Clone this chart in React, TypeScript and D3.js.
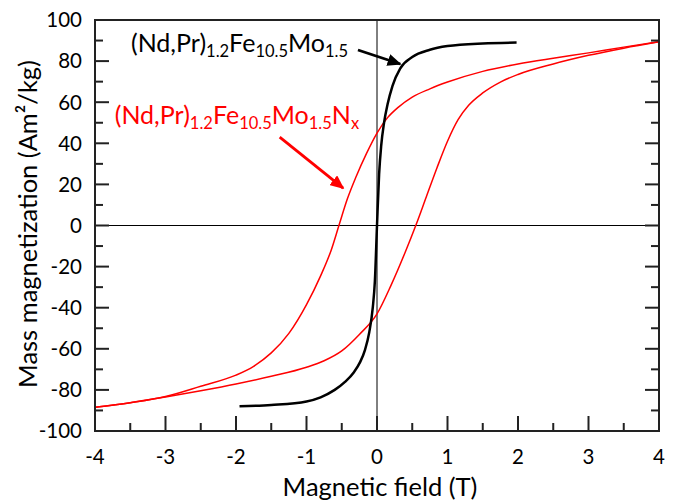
import React from "react";
import * as d3 from "d3";

// ---- data ----
const blackX = [-1.95, -1.5, -1.0, -0.8, -0.6, -0.45, -0.33, -0.24, -0.17, -0.11, -0.06, -0.03, 0, 0.03, 0.06, 0.1, 0.15, 0.22, 0.33, 0.5, 0.75, 1.0, 1.5, 1.98];
const blackY = [-88, -87.3, -85.6, -83.6, -80, -76, -71.5, -66.5, -60.5, -52, -40, -27, 0, 25, 39, 50, 59, 68, 76.5, 82, 85.5, 87.3, 88.6, 89];

const redUpperX = [-4, -3.5, -3.0, -2.5, -2.0, -1.75, -1.5, -1.25, -1.0, -0.8, -0.65, -0.54, -0.42, -0.3, -0.15, 0, 0.15, 0.3, 0.5, 0.75, 1.0, 1.5, 2.0, 2.5, 3.0, 3.5, 4.0];
const redUpperY = [-88.5, -86.2, -83.2, -78.2, -72.8, -68.5, -62, -52.5, -38.5, -24.5, -12, 0, 13, 23.5, 35, 45, 52.5, 57.5, 62.5, 66.5, 69.8, 75, 78.6, 81.4, 84, 86.8, 89.4];

const redLowerX = [-4, -3.5, -3.0, -2.5, -2.0, -1.5, -1.0, -0.75, -0.5, -0.25, 0, 0.2, 0.4, 0.55, 0.7, 0.85, 1.0, 1.15, 1.3, 1.5, 1.75, 2.0, 2.5, 3.0, 3.5, 4.0];
const redLowerY = [-88.5, -86.3, -83.5, -80.4, -77.1, -73.4, -69, -65.8, -61, -53, -43, -29, -13, 0, 14, 28, 41, 51.5, 58.5, 64.5, 69.8, 73.5, 78.6, 82.8, 86.3, 89.4];

const xTicks = [-4, -3, -2, -1, 0, 1, 2, 3, 4];
const xMinorTicks = [-3.5, -2.5, -1.5, -0.5, 0.5, 1.5, 2.5, 3.5];
const yTicks = [-100, -80, -60, -40, -20, 0, 20, 40, 60, 80, 100];
const yMinorTicks = [-90, -70, -50, -30, -10, 10, 30, 50, 70, 90];

// annotations in data coordinates
const blackLabelPos = [-3.49, 84.4];
const blackArrow = [[-0.27, 85.4], [0.33, 78.6]];
const redLabelPos = [-3.72, 49.4];
const redArrow = [[-1.38, 43], [-0.48, 18.2]];

const W = 682, H = 500;
const L = 95, R = 659, T = 20, B = 431;
const FONT = "Lato, 'Open Sans', sans-serif";

export default function App() {
  const x = d3.scaleLinear().domain([-4, 4]).range([L, R]);
  const y = d3.scaleLinear().domain([-100, 100]).range([B, T]);
  const line = d3.line<[number, number]>().x(d => x(d[0])).y(d => y(d[1])).curve(d3.curveMonotoneX);
  const zip = (a: number[], b: number[]) => a.map((v, i) => [v, b[i]] as [number, number]);

  const axisColor = "#222";
  const sub = 16.5;
  return (
    <div style={{ position: "absolute", left: 0, top: 0 }}>
      <svg width={W} height={H} style={{ display: "block", background: "#fff" }} fontFamily={FONT}>
        <defs>
          <marker id="ahBlack" viewBox="0 0 10 10" refX="9" refY="5" markerWidth="5" markerHeight="4.4" orient="auto" markerUnits="strokeWidth" preserveAspectRatio="none">
            <path d="M0,0 L10,5 L0,10 z" fill="#000" />
          </marker>
          <marker id="ahRed" viewBox="0 0 10 10" refX="9" refY="5" markerWidth="5" markerHeight="4.4" orient="auto" markerUnits="strokeWidth" preserveAspectRatio="none">
            <path d="M0,0 L10,5 L0,10 z" fill="#ff0000" />
          </marker>
        </defs>

        {/* zero lines */}
        <line x1={x(0)} x2={x(0)} y1={T} y2={B} stroke="#000" strokeWidth={1} />
        <line x1={L} x2={R} y1={y(0)} y2={y(0)} stroke="#000" strokeWidth={1} />

        {/* curves */}
        <path d={line(zip(redUpperX, redUpperY)) || ""} fill="none" stroke="#ff0000" strokeWidth={1.5} />
        <path d={line(zip(redLowerX, redLowerY)) || ""} fill="none" stroke="#ff0000" strokeWidth={1.5} />
        <path d={line(zip(blackX, blackY)) || ""} fill="none" stroke="#000" strokeWidth={2.5} />

        {/* frame */}
        <rect x={L} y={T} width={R - L} height={B - T} fill="none" stroke={axisColor} strokeWidth={2} />

        {/* y ticks */}
        {yTicks.map(v => (
          <g key={"y" + v}>
            <line x1={L} x2={L + 14} y1={y(v)} y2={y(v)} stroke={axisColor} strokeWidth={2} />
            <line x1={R} x2={R - 14} y1={y(v)} y2={y(v)} stroke={axisColor} strokeWidth={2} />
            <text x={82} y={y(v)} dy="0.36em" textAnchor="end" fontSize={20.5} fill="#000">{v}</text>
          </g>
        ))}
        {yMinorTicks.map(v => (
          <g key={"ym" + v}>
            <line x1={L} x2={L + 8} y1={y(v)} y2={y(v)} stroke={axisColor} strokeWidth={2} />
            <line x1={R} x2={R - 8} y1={y(v)} y2={y(v)} stroke={axisColor} strokeWidth={2} />
          </g>
        ))}

        {/* x ticks */}
        {xTicks.map(v => (
          <g key={"x" + v}>
            <line x1={x(v)} x2={x(v)} y1={B} y2={B - 15} stroke={axisColor} strokeWidth={2} />
            <text x={x(v)} y={464} textAnchor="middle" fontSize={20.5} fill="#000">{v}</text>
          </g>
        ))}
        {xMinorTicks.map(v => (
          <line key={"xm" + v} x1={x(v)} x2={x(v)} y1={B} y2={B - 8} stroke={axisColor} strokeWidth={2} />
        ))}

        {/* axis labels */}
        <text x={380} y={496} textAnchor="middle" fontSize={25.5} fill="#000">Magnetic field (T)</text>
        <text transform={`translate(37,224) rotate(-90)`} textAnchor="middle" fontSize={25.5} fill="#000">
          Mass magnetization (Am²/kg)
        </text>

        {/* annotations */}
        <text x={x(blackLabelPos[0])} y={y(blackLabelPos[1])} fontSize={25} fill="#000">
          (Nd,Pr)<tspan fontSize={sub} dy={5}>1.2</tspan><tspan dy={-5}>Fe</tspan><tspan fontSize={sub} dy={5}>10.5</tspan><tspan dy={-5}>Mo</tspan><tspan fontSize={sub} dy={5}>1.5</tspan>
        </text>
        <line x1={x(blackArrow[0][0])} y1={y(blackArrow[0][1])} x2={x(blackArrow[1][0])} y2={y(blackArrow[1][1])} stroke="#000" strokeWidth={2.8} markerEnd="url(#ahBlack)" />

        <text x={x(redLabelPos[0])} y={y(redLabelPos[1])} fontSize={25} fill="#ff0000">
          (Nd,Pr)<tspan fontSize={sub} dy={5}>1.2</tspan><tspan dy={-5}>Fe</tspan><tspan fontSize={sub} dy={5}>10.5</tspan><tspan dy={-5}>Mo</tspan><tspan fontSize={sub} dy={5}>1.5</tspan><tspan dy={-5}>N</tspan><tspan fontSize={sub} dy={5}>x</tspan>
        </text>
        <line x1={x(redArrow[0][0])} y1={y(redArrow[0][1])} x2={x(redArrow[1][0])} y2={y(redArrow[1][1])} stroke="#ff0000" strokeWidth={2.8} markerEnd="url(#ahRed)" />
      </svg>
    </div>
  );
}
